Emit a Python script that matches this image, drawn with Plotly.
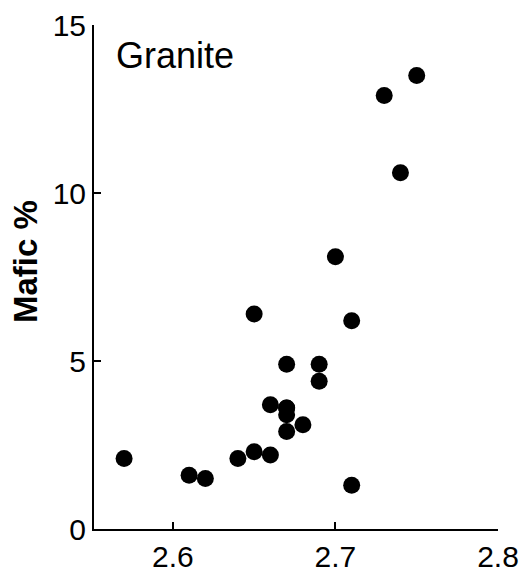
import plotly.graph_objects as go

# Rock density (g/cm3) versus mafic mineral content for granite samples
density = [2.57, 2.61, 2.62, 2.64, 2.65, 2.66, 2.65, 2.66, 2.67, 2.67, 2.67,
           2.68, 2.67, 2.69, 2.69, 2.67, 2.71, 2.71, 2.70, 2.74, 2.73, 2.75]
mafic = [2.1, 1.6, 1.5, 2.1, 2.3, 2.2, 6.4, 3.7, 3.6, 3.4, 2.9,
         3.1, 4.9, 4.9, 4.4, 3.6, 6.2, 1.3, 8.1, 10.6, 12.9, 13.5]

x_ticks = [2.6, 2.7, 2.8]
x_tick_text = ["2.6", "2.7", "2.8"]
y_ticks = [0, 5, 10, 15]

FONT = "Liberation Sans, Arial, sans-serif"

fig = go.Figure(
    go.Scatter(
        x=density,
        y=mafic,
        mode="markers",
        marker=dict(size=17, color="black", line=dict(width=0)),
        cliponaxis=False,
        hoverinfo="x+y",
    )
)

axis_common = dict(
    showline=True,
    linecolor="black",
    linewidth=2,
    ticks="inside",
    ticklen=7,
    tickwidth=2,
    tickcolor="black",
    showgrid=False,
    zeroline=False,
    automargin=False,
    tickfont=dict(family=FONT, size=30, color="black"),
)

fig.update_xaxes(
    range=[2.5515, 2.8],
    tickvals=x_ticks,
    ticktext=x_tick_text,
    **axis_common,
)
fig.update_yaxes(
    range=[0, 15],
    tickvals=y_ticks,
    **axis_common,
)

fig.add_annotation(
    text="Granite",
    xref="paper", yref="paper",
    x=0, y=1,
    xanchor="left", yanchor="top",
    xshift=20, yshift=-8,
    showarrow=False,
    font=dict(family=FONT, size=36, color="black"),
)
fig.add_annotation(
    text="<b>Mafic %</b>",
    xref="paper", yref="paper",
    x=0, y=0.5,
    xanchor="center", yanchor="middle",
    xshift=-69, yshift=15,
    textangle=-90,
    showarrow=False,
    font=dict(family=FONT, size=33, color="black"),
)

fig.update_layout(
    width=526,
    height=576,
    margin=dict(l=94, r=28, t=25, b=47),
    paper_bgcolor="white",
    plot_bgcolor="white",
    showlegend=False,
)

fig.write_html("out.html")
